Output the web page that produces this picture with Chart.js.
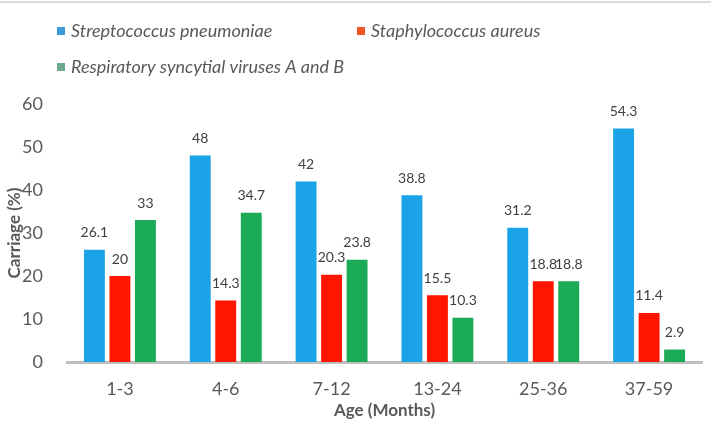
<!DOCTYPE html>
<html>
<head>
<meta charset="utf-8">
<script src="https://cdn.jsdelivr.net/npm/chart.js@4/dist/chart.umd.min.js"></script>
<style>
  body { margin: 0; background: #fff; }
  #wrap { width: 711px; height: 430px; position: relative; }
</style>
</head>
<body>
<div id="wrap"><canvas id="myChart"></canvas></div>
<script>
// data
var ageGroups = ['1-3', '4-6', '7-12', '13-24', '25-36', '37-59']
var strepValues = [26.1, 48, 42, 38.8, 31.2, 54.3]
var staphValues = [20, 14.3, 20.3, 15.5, 18.8, 11.4]
var rsvValues = [33, 34.7, 23.8, 10.3, 18.8, 2.9]
var seriesNames = ['Streptococcus pneumoniae', 'Staphylococcus aureus', 'Respiratory syncytial viruses A and B']
var yTicks = [0, 10, 20, 30, 40, 50, 60]

var barColors = ['#1AA3E6', '#FF1500', '#1BAA55']
var legendColors = ['#3D9BDB', '#ED5528', '#6BAA8A']
var textGrey = '#595959'
var fontName = 'Lato, "Open Sans", sans-serif'

// value labels over each bar
var barLabels = {
  id: 'barLabels',
  afterDatasetsDraw: function(chart) {
    var ctx = chart.ctx
    ctx.save()
    ctx.font = '14px ' + fontName
    ctx.fillStyle = '#404040'
    ctx.textAlign = 'center'
    ctx.textBaseline = 'middle'
    chart.data.datasets.forEach(function(ds, i) {
      var meta = chart.getDatasetMeta(i)
      meta.data.forEach(function(bar, j) {
        ctx.fillText(String(ds.data[j]), bar.x, bar.y - 17)
      })
    })
    ctx.restore()
  }
}

// legend drawn by hand so the rows sit like the original
var sideLegend = {
  id: 'sideLegend',
  afterDraw: function(chart) {
    var ctx = chart.ctx
    var spots = [[57, 31], [357, 31], [57, 67]]
    ctx.save()
    ctx.font = 'italic 18px ' + fontName
    ctx.textBaseline = 'middle'
    ctx.textAlign = 'left'
    for (i = 0; i < seriesNames.length; i++) {
      ctx.fillStyle = legendColors[i]
      ctx.fillRect(spots[i][0], spots[i][1] - 4, 8, 8)
      ctx.fillStyle = textGrey
      ctx.fillText(seriesNames[i], spots[i][0] + 14, spots[i][1])
    }
    // thin grey line on top of the frame
    ctx.fillStyle = '#D9D9D9'
    ctx.fillRect(0, 1, chart.width, 2)
    ctx.restore()
  }
}

var ctx = document.getElementById('myChart').getContext('2d')
var myChart = new Chart(ctx, {
  type: 'bar',
  data: {
    labels: ageGroups,
    datasets: [
      { label: seriesNames[0], data: strepValues, backgroundColor: barColors[0] },
      { label: seriesNames[1], data: staphValues, backgroundColor: barColors[1] },
      { label: seriesNames[2], data: rsvValues, backgroundColor: barColors[2] }
    ]
  },
  options: {
    responsive: true,
    maintainAspectRatio: false,
    animation: false,
    categoryPercentage: 0.723,
    barPercentage: 0.82,
    layout: { padding: { top: 104, right: 9, bottom: 5, left: 0 } },
    plugins: {
      legend: { display: false },
      tooltip: { enabled: false }
    },
    scales: {
      x: {
        grid: { display: false },
        border: { display: true, color: '#BFBFBF', width: 3 },
        ticks: { color: textGrey, font: { family: fontName, size: 18 }, padding: 8 },
        title: { display: true, text: 'Age (Months)', color: textGrey, font: { family: fontName, size: 17, weight: 'bold' }, padding: { top: 2 } },
        afterFit: function(scale) { scale.height = 63 }
      },
      y: {
        min: 0,
        max: 60,
        afterBuildTicks: function(scale) {
          scale.ticks = yTicks.map(function(v) { return { value: v } })
        },
        grid: { display: false },
        border: { display: false },
        ticks: { color: textGrey, font: { family: fontName, size: 18 }, padding: 16 },
        title: { display: true, text: 'Carriage (%)', color: textGrey, font: { family: fontName, size: 17, weight: 'bold' }, padding: { bottom: 4 } },
        afterFit: function(scale) { scale.width = 67 }
      }
    }
  },
  plugins: [barLabels, sideLegend]
})
</script>
</body>
</html>
